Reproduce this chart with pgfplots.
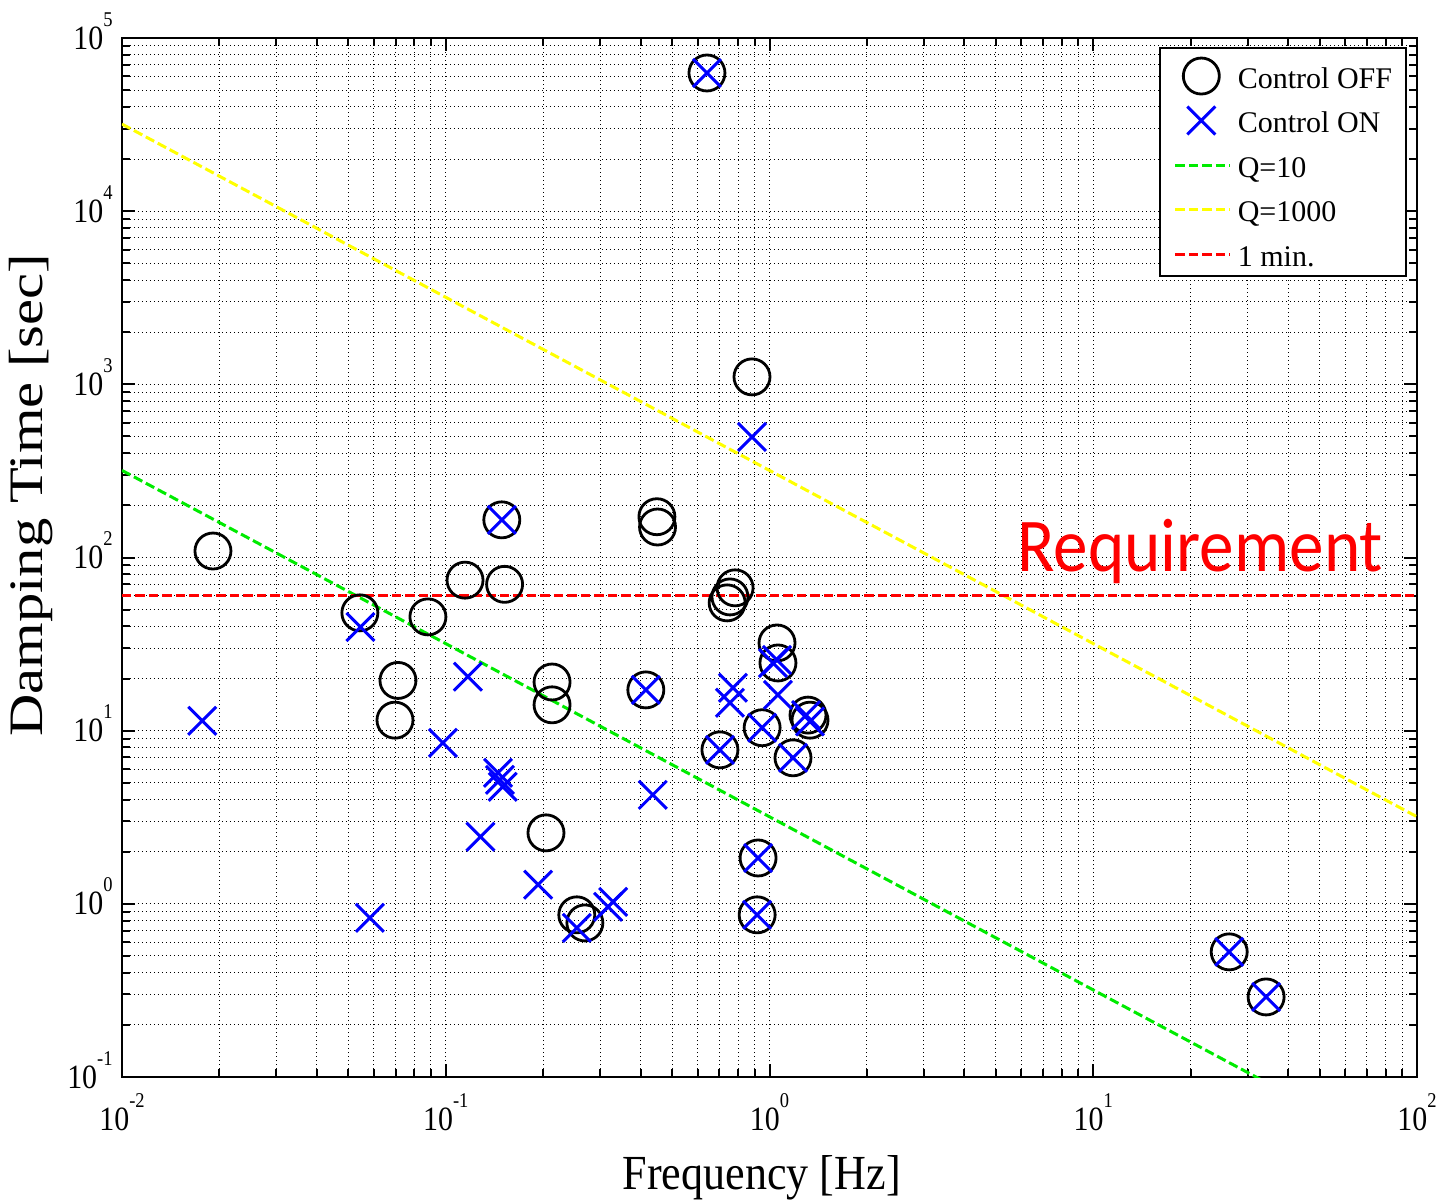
\documentclass[border=0pt]{standalone}
\usepackage{fontspec}
\setmainfont{Liberation Serif}
\newfontfamily\tickfont{Liberation Serif}[FakeStretch=0.88]
\newfontfamily\xlabfont{Liberation Serif}[FakeStretch=0.9]
\newfontfamily\ylabfont{Liberation Serif}[FakeStretch=1.22]
\newfontfamily\reqfont{Carlito}[FakeStretch=0.91]
\usepackage{pgfplots}
\pgfplotsset{compat=1.18}
\newcommand{\tl}[1]{10\raisebox{11.5pt}[0pt][0pt]{\fontsize{10.5}{10.5}\selectfont #1}}
\definecolor{qgreen}{RGB}{0,235,0}
\definecolor{qyellow}{RGB}{255,255,0}
\pgfplotsset{
  markleg/.style={legend image code/.code={\draw[##1] plot coordinates {(13pt,6pt)};}},
  lineleg/.style={legend image code/.code={\draw[##1] (0pt,6pt) -- (27.5pt,6pt);}},
}
\begin{document}
\begin{tikzpicture}
\begin{axis}[
  scale only axis,
  width=647.5pt, height=519.5pt,
  xmode=log, ymode=log,
  xmin=0.01, xmax=100, ymin=0.1, ymax=1e5,
  xtick={0.01,0.1,1,10,100},
  xticklabels={\tl{-2},\tl{-1},\tl{0},\tl{1},\tl{2}},
  ytick={0.1,1,10,100,1000,10000,100000},
  yticklabels={\tl{-1},\tl{0},\tl{1},\tl{2},\tl{3},\tl{4},\tl{5}},
  ticklabel style={font=\tickfont\fontsize{17}{17}\selectfont, inner sep=0pt},
  xticklabel style={anchor=north, yshift=-15pt},
  yticklabel style={anchor=east, xshift=-4.5pt},
  tick align=inside,
  major tick length=6.5pt, minor tick length=4pt,
  tick style={black, line width=1pt},
  axis line style={line width=1pt},
  grid=both,
  major grid style={black, line width=0.5pt, dash pattern=on 0.5pt off 1.5pt},
  minor grid style={black, line width=0.5pt, dash pattern=on 0.5pt off 1.5pt},
  xlabel={\xlabfont\fontsize{24.5}{24.5}\selectfont Frequency [Hz]},
  ylabel={\ylabfont\fontsize{24}{24}\selectfont Damping Time [sec]},
  xlabel style={at={(axis description cs:0.494,-0.1085)}, anchor=base, inner sep=0pt},
  ylabel style={at={(axis description cs:-0.061,0.56)}, anchor=base, inner sep=0pt},
  legend cell align=left,
  legend style={at={(axis description cs:0.9923,0.9913)}, anchor=north east,
    draw=black, line width=1pt, fill=white,
    font=\fontsize{15}{18}\selectfont,
    inner xsep=7pt, inner ysep=2pt,
    nodes={inner sep=0pt, text height=18pt, text depth=3pt},
    cells={anchor=base west},
    row sep=1.25pt, column sep=3pt},
]
\addplot[only marks, mark=o, mark size=9pt, black, line width=1.4pt, markleg]
coordinates {
(0.0191,109) (0.0543,47.9) (0.0881,45.4) (0.0712,19.5) (0.0697,11.5)
(0.1147,74) (0.149,165) (0.152,70) (0.213,19.1) (0.213,14.1)
(0.204,2.57) (0.254,0.864) (0.269,0.776) (0.449,172) (0.451,150)
(0.415,17.2) (0.641,62800) (0.703,7.75) (0.783,66.8) (0.755,59.2)
(0.74,54.7) (0.883,1104) (0.922,1.84) (0.916,0.864) (0.949,10.4)
(1.055,32.1) (1.062,24.6) (1.182,6.97) (1.315,12.3) (1.334,11.5)
(26.3,0.528) (34.2,0.29)
};
\addlegendentry{Control OFF}
\addplot[only marks, mark=x, mark size=9.9pt, blue, line width=1.5pt, markleg]
coordinates {
(0.0177,11.4) (0.0545,39.7) (0.0583,0.83) (0.098,8.5) (0.117,20.5)
(0.128,2.44) (0.145,5.71) (0.147,5.2) (0.150,4.74) (0.149,165)
(0.193,1.29) (0.254,0.727) (0.317,0.961) (0.329,1.027) (0.415,17.2)
(0.436,4.26) (0.641,62800) (0.703,7.75) (0.755,14.5) (0.771,17.7)
(0.883,497) (0.922,1.84) (0.916,0.864) (0.949,10.4) (1.025,24.6)
(1.055,25.6) (1.062,16.1) (1.182,6.97) (1.297,12.3) (1.334,11.3)
(26.3,0.528) (34.2,0.29)
};
\addlegendentry{Control ON}
\addplot[qgreen, line width=1.5pt, dash pattern=on 4.75pt off 2pt, lineleg]
coordinates {(0.01,318.31) (100,0.031831)};
\addlegendentry{Q=10}
\addplot[qyellow, line width=1.5pt, dash pattern=on 4.75pt off 2pt, lineleg]
coordinates {(0.01,31831) (100,3.1831)};
\addlegendentry{Q=1000}
\addplot[red, line width=1.5pt, dash pattern=on 4.75pt off 2pt, lineleg]
coordinates {(0.01,60) (100,60)};
\addlegendentry{1 min.}
\node[anchor=base west, inner sep=0pt, text=red, font=\reqfont\fontsize{38}{38}\selectfont]
  at (axis cs:5.814,82.6) {Requirement};
\coordinate (bl) at (rel axis cs:0,0);
\coordinate (tr) at (rel axis cs:1,1);
\end{axis}
\pgfresetboundingbox
\path ([shift={(-61pt,-62pt)}]bl) rectangle ([shift={(12pt,19pt)}]tr);
\end{tikzpicture}
\end{document}
